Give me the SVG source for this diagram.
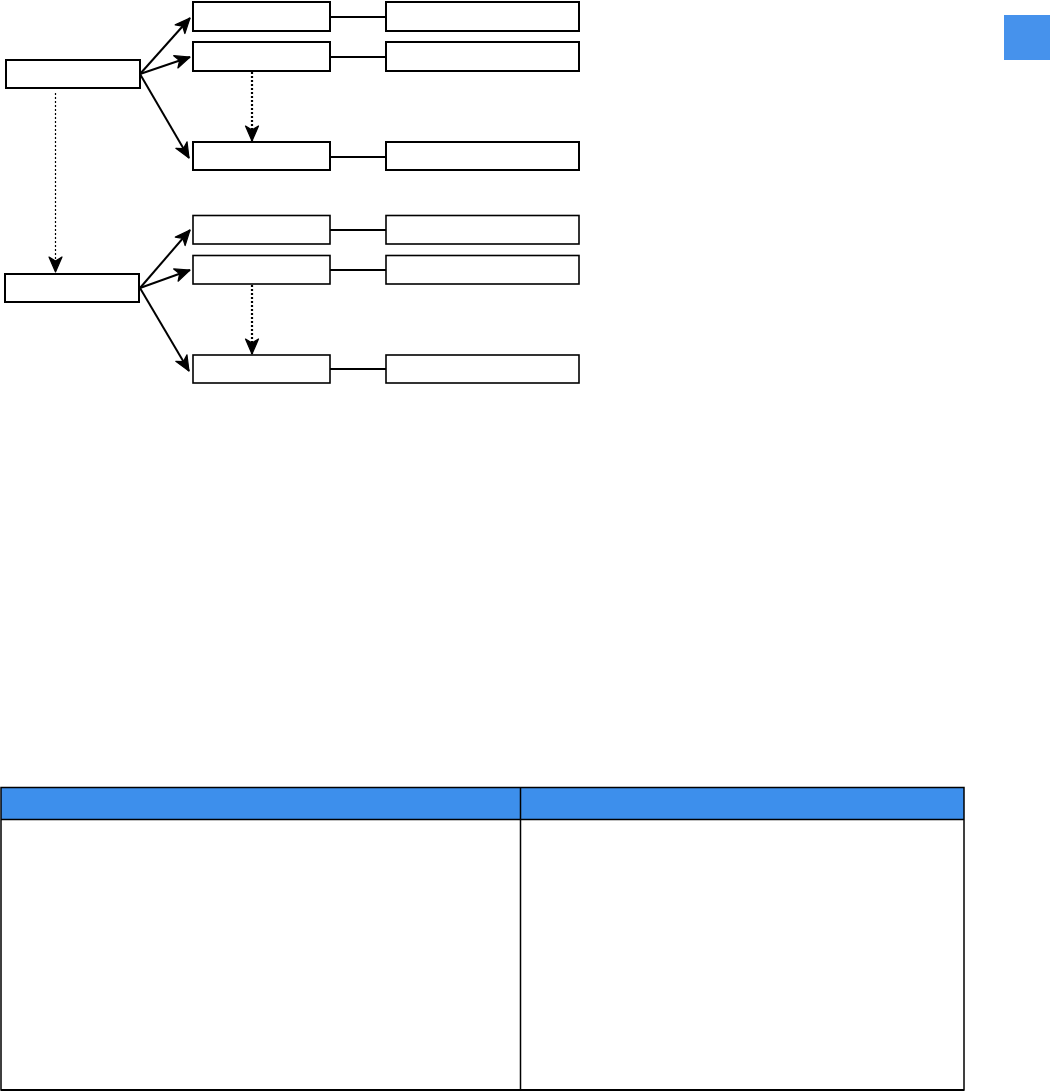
<svg xmlns="http://www.w3.org/2000/svg" width="1050" height="1092" viewBox="0 0 1050 1092">
<style>
.n{fill:#fff;stroke:#000;stroke-width:2}
.n2{fill:#fff;stroke:#000;stroke-width:1.6}
.e{fill:none;stroke:#000;stroke-width:2}
.d{fill:none;stroke:#000;stroke-width:2.2;stroke-dasharray:2 2}
.d1{fill:none;stroke:#000;stroke-width:1.2;stroke-dasharray:2 2}
.t{fill:none;stroke:#000;stroke-width:1.5}
</style>
<defs>
<marker id="ah" markerUnits="userSpaceOnUse" markerWidth="20" markerHeight="20" viewBox="0 0 20 20" refX="16" refY="10" orient="auto">
<path d="M1,3.5 L16,10 L1,16.5 L5,10 Z" fill="#000" stroke="#000" stroke-width="1.2" stroke-linejoin="round"/>
</marker>
</defs>
<rect width="1050" height="1092" fill="#fff"/>
<g id="connectors">
<line class="e" x1="140" y1="74" x2="190" y2="18" marker-end="url(#ah)"/>
<line class="e" x1="140" y1="74" x2="190" y2="57" marker-end="url(#ah)"/>
<line class="e" x1="140" y1="74" x2="189" y2="158" marker-end="url(#ah)"/>
<line class="e" x1="330" y1="17" x2="386" y2="17"/>
<line class="e" x1="330" y1="57" x2="386" y2="57"/>
<line class="e" x1="330" y1="157" x2="386" y2="157"/>
<line class="d" x1="252" y1="72" x2="252" y2="141" marker-end="url(#ah)"/>
<line class="d1" x1="55.5" y1="93" x2="55.5" y2="272" marker-end="url(#ah)"/>
<line class="e" x1="140" y1="288" x2="190" y2="230" marker-end="url(#ah)"/>
<line class="e" x1="140" y1="288" x2="190" y2="270" marker-end="url(#ah)"/>
<line class="e" x1="140" y1="288" x2="189" y2="371" marker-end="url(#ah)"/>
<line class="e" x1="330" y1="230" x2="386" y2="230"/>
<line class="e" x1="330" y1="270" x2="386" y2="270"/>
<line class="e" x1="330" y1="369" x2="386" y2="369"/>
<line class="d" x1="252" y1="285" x2="252" y2="354" marker-end="url(#ah)"/>
</g>
<g id="node-l1"><rect class="n" x="6" y="60" width="134" height="28"/></g>
<g id="node-a1"><rect class="n" x="193" y="2" width="137" height="29"/></g>
<g id="node-b1"><rect class="n" x="193" y="42" width="137" height="29"/></g>
<g id="node-c1"><rect class="n" x="193" y="142" width="137" height="28"/></g>
<g id="node-ra1"><rect class="n" x="386" y="2" width="193" height="29"/></g>
<g id="node-rb1"><rect class="n" x="386" y="42" width="193" height="29"/></g>
<g id="node-rc1"><rect class="n" x="386" y="142" width="193" height="28"/></g>
<g id="node-l2"><rect class="n" x="5" y="274" width="134" height="28"/></g>
<g id="node-a2"><rect class="n2" x="193" y="215.5" width="137" height="28.5"/></g>
<g id="node-b2"><rect class="n2" x="193" y="255.5" width="137" height="28.5"/></g>
<g id="node-c2"><rect class="n2" x="193" y="355" width="137" height="28"/></g>
<g id="node-ra2"><rect class="n2" x="386" y="215.5" width="193" height="28.5"/></g>
<g id="node-rb2"><rect class="n2" x="386" y="255.5" width="193" height="28.5"/></g>
<g id="node-rc2"><rect class="n2" x="386" y="355" width="193" height="28"/></g>
<g id="blue-square"><rect x="1004" y="15" width="46" height="45" fill="#4692EC"/></g>
<g id="table">
<rect x="1" y="787.5" width="963" height="32" fill="#3D8FEC"/>
<rect class="t" x="1" y="787.5" width="963" height="302.5"/>
<line class="t" x1="1" y1="819.5" x2="964" y2="819.5"/>
<line class="t" x1="520.5" y1="787.5" x2="520.5" y2="1090"/>
<line x1="1" y1="1090" x2="964" y2="1090" stroke="#000" stroke-width="2"/>
</g>
</svg>
